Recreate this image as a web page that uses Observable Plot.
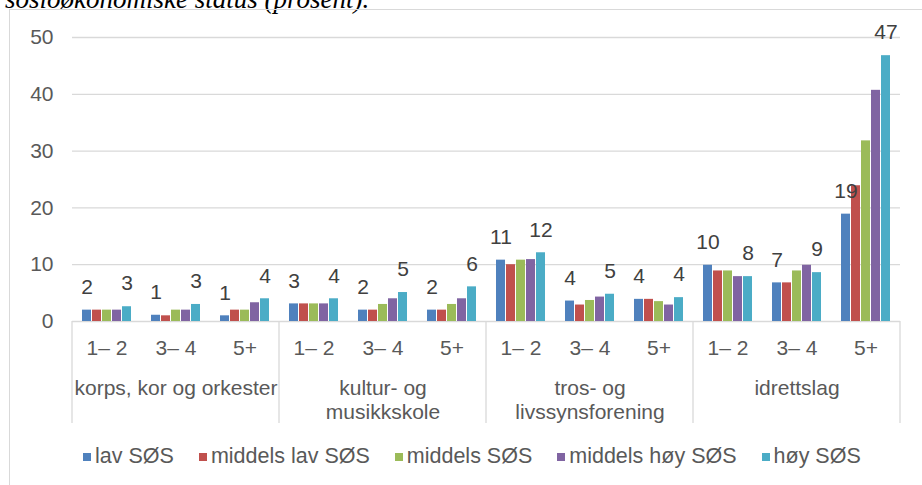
<!DOCTYPE html>
<html>
<head>
<meta charset="utf-8">
<script src="https://cdn.jsdelivr.net/npm/d3@7"></script>
<script src="https://cdn.jsdelivr.net/npm/@observablehq/plot@0.6"></script>
<style>
  html, body { margin: 0; padding: 0; background: #fff; }
  #page { position: relative; width: 922px; height: 485px; overflow: hidden; background: #fff; }
  #title { position: absolute; left: 5px; top: -14px; font: italic 27px/1 "Liberation Serif", "Times New Roman", serif; color: #000; white-space: nowrap; }
  #box { position: absolute; left: 9px; top: 9px; width: 1000px; height: 600px; border-left: 1px solid #d9d9d9; border-top: 1px solid #d9d9d9; }
  #chart { position: absolute; left: 0; top: 0; }
  #legend { position: absolute; left: 83px; top: 444px; display: flex; align-items: center; font: 21.5px "Liberation Sans", Arial, sans-serif; color: #595959; white-space: nowrap; }
  .item { display: flex; align-items: center; margin-right: 25px; }
  .sw { width: 8px; height: 8px; margin-right: 4px; }
</style>
</head>
<body>
<div id="page">
  <div id="title">sosioøkonomiske status (prosent).</div>
  <div id="box"></div>
  <div id="chart"></div>
  <div id="legend"></div>
</div>
<script>
const groups = ["korps, kor og orkester", "kultur- og\nmusikkskole", "tros- og\nlivssynsforening", "idrettslag"];
const frequencies = ["1– 2", "3– 4", "5+"];
const series = ["lav SØS", "middels lav SØS", "middels SØS", "middels høy SØS", "høy SØS"];
const colors = ["#4f81bd", "#c0504d", "#9bbb59", "#8064a2", "#4bacc6"];
const yTicks = [0, 10, 20, 30, 40, 50];

// values in order: korps(1–2,3–4,5+), kultur(...), tros(...), idrett(...)
const lavSOS        = [2.0, 1.1, 1.0, 3.1, 2.0, 2.0, 10.8, 3.6, 3.9, 9.9, 6.8, 18.9];
const middelsLavSOS = [2.0, 1.0, 2.0, 3.1, 2.0, 2.0, 10.0, 2.9, 3.9, 8.9, 6.8, 23.9];
const middelsSOS    = [2.0, 2.0, 2.0, 3.1, 3.0, 3.0, 10.8, 3.7, 3.5, 8.9, 8.9, 31.8];
const middelsHoySOS = [2.0, 2.0, 3.3, 3.1, 4.0, 4.0, 10.9, 4.3, 2.9, 7.9, 9.9, 40.7];
const hoySOS        = [2.6, 3.0, 4.0, 4.0, 5.1, 6.1, 12.1, 4.8, 4.2, 7.9, 8.6, 46.8];
const seriesValues = [lavSOS, middelsLavSOS, middelsSOS, middelsHoySOS, hoySOS];

const keys = [];
groups.forEach((g, gi) => frequencies.forEach(f => keys.push(`${gi}|${f}`)));

const rows = [];
keys.forEach((k, ki) => series.forEach((s, si) => rows.push({key: k, series: s, value: seriesValues[si][ki]})));
const labelRows = rows.filter(d => d.series === series[0] || d.series === series[series.length - 1]);
const groupRows = groups.map((g, gi) => ({key: `${gi}|${frequencies[1]}`, label: g}));

const chart = Plot.plot({
  width: 922,
  height: 432,
  marginLeft: 68,
  marginRight: 19,
  marginTop: 37,
  marginBottom: 111,
  style: "font: 21px 'Liberation Sans', Arial, sans-serif; color: #595959; background: transparent; overflow: visible;",
  fx: {domain: keys, padding: 0, axis: "bottom", tickSize: 0, tickPadding: 19, label: null, tickFormat: k => k.split("|")[1]},
  x: {domain: series, axis: null, paddingInner: 0.15, paddingOuter: 0.9},
  y: {domain: [0, 50], ticks: yTicks, tickSize: 0, tickPadding: 19, label: null},
  color: {domain: series, range: colors},
  marks: [
    Plot.ruleY(yTicks, {stroke: "#d9d9d9", strokeWidth: 1.3}),
    Plot.barY(rows, {fx: "key", x: "series", y: "value", fill: "series"}),
    Plot.text(labelRows, {fx: "key", x: "series", y: "value", text: d => d3.format(".0f")(d.value), dy: -23, fill: "#404040"}),
    Plot.text(groupRows, {fx: "key", text: "label", frameAnchor: "bottom", lineAnchor: "top", dy: 56, lineHeight: 1.15, fill: "#595959"})
  ]
});
document.getElementById("chart").appendChild(chart);

// group separators below the axis, positioned with Plot's own scales
const fxs = chart.scale("fx");
const ys = chart.scale("y");
const y0 = ys.apply(0);
const seps = groups.map((g, gi) => fxs.apply(`${gi}|${frequencies[0]}`));
seps.push(fxs.apply(keys[keys.length - 1]) + fxs.bandwidth);
const svg = d3.select(chart);
svg.append("g").selectAll("line").data(seps).join("line")
  .attr("x1", d => d).attr("x2", d => d)
  .attr("y1", y0).attr("y2", y0 + 102)
  .attr("stroke", "#d9d9d9").attr("stroke-width", 1.3);

// legend
const legend = d3.select("#legend");
series.forEach((s, i) => {
  const it = legend.append("div").attr("class", "item");
  it.append("div").attr("class", "sw").style("background", colors[i]);
  it.append("span").text(s);
});
</script>
</body>
</html>
